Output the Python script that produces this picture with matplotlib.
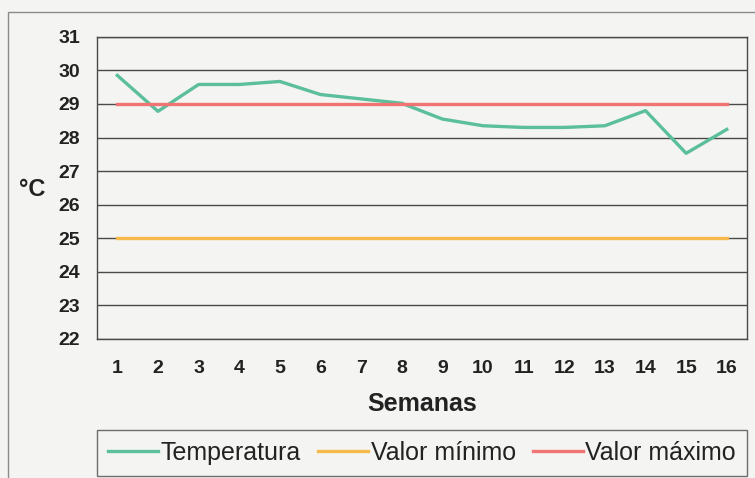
import matplotlib
matplotlib.use('Agg')
import matplotlib.pyplot as plt
from matplotlib.patches import Rectangle

plt.rcParams['font.family'] = ['Liberation Sans', 'DejaVu Sans']

semanas = list(range(1, 17))
temperatura = [29.85, 28.78, 29.58, 29.58, 29.67, 29.28, 29.15, 29.02,
               28.55, 28.35, 28.3, 28.3, 28.35, 28.8, 27.53, 28.24]
valor_minimo = [25] * 16
valor_maximo = [29] * 16
yticks = list(range(22, 32))

bg = '#f4f4f2'
fig = plt.figure(figsize=(7.55, 4.78), dpi=100, facecolor=bg)
fig.patches.append(Rectangle((0.011, -0.01), 1.0, 0.985, transform=fig.transFigure,
                             fill=False, edgecolor='#8a8a8a', lw=1.0))

ax = fig.add_axes([0.1285, 0.291, 0.861, 0.632])
ax.set_facecolor(bg)
ax.plot(semanas, temperatura, color='#5cbf9c', lw=2.4, label='Temperatura')
ax.plot(semanas, valor_minimo, color='#f5b94c', lw=2.4, label='Valor mínimo')
ax.plot(semanas, valor_maximo, color='#f07474', lw=2.4, label='Valor máximo')

ax.set_xlim(0.5, 16.5)
ax.set_ylim(22, 31)
ax.set_yticks(yticks)
ax.set_xticks(semanas)
ax.yaxis.grid(True, color='#4a4a4a', lw=1.0)
ax.set_axisbelow(True)
for s in ax.spines.values():
    s.set_color('#4a4a4a')
    s.set_linewidth(1.0)
ax.tick_params(axis='both', length=0, labelsize=14)
ax.tick_params(axis='x', pad=15)
ax.tick_params(axis='y', pad=12)
for lbl in ax.get_xticklabels() + ax.get_yticklabels():
    lbl.set_fontweight('bold')
    lbl.set_color('#222222')

ax.set_xlabel('Semanas', fontsize=18, fontweight='bold', color='#222222', labelpad=11)
fig.text(0.042, 0.603, '°C', fontsize=17, fontweight='bold', color='#222222',
         ha='center', va='center')

leg = fig.legend(loc='lower left', bbox_to_anchor=(0.1285, 0.004, 0.861, 0.09),
                 mode='expand', ncol=3, fontsize=18, frameon=True, fancybox=False,
                 handlelength=2.0, handletextpad=0.1, borderaxespad=0,
                 columnspacing=0.6, borderpad=0.45)
leg.get_frame().set_edgecolor('#4a4a4a')
leg.get_frame().set_facecolor(bg)
leg.get_frame().set_linewidth(1.0)
for t in leg.get_texts():
    t.set_color('#222222')

fig.savefig('out.png', dpi=100, facecolor=bg)
